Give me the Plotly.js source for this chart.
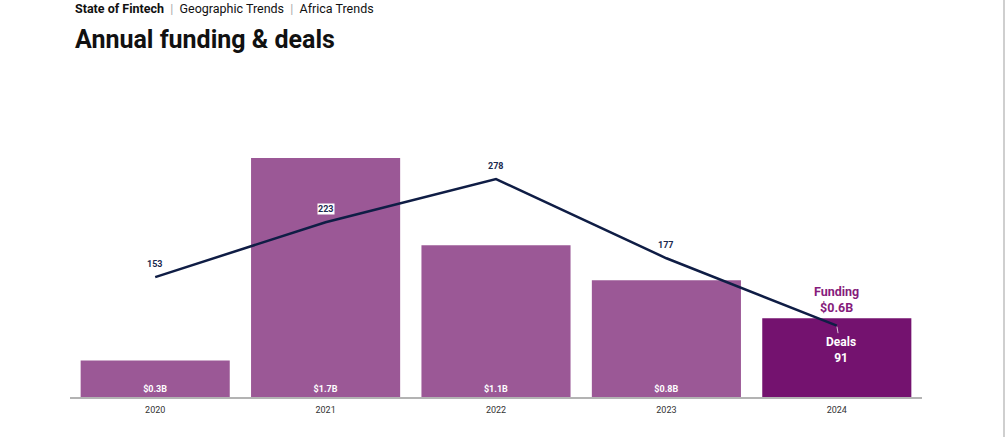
<!DOCTYPE html>
<html>
<head>
<meta charset="utf-8">
<script src="https://cdn.plot.ly/plotly-3.0.1.min.js"></script>
<style>
html,body{margin:0;padding:0;background:#fff;}
#chart{width:1005px;height:437px;}
#edge{position:absolute;left:1003px;top:0;width:2px;height:437px;background:#cfcfcf;}
</style>
</head>
<body>
<div id="chart"></div>
<div id="edge"></div>
<script>
const years = ['2020', '2021', '2022', '2023', '2024'];
const fundingB = [0.26, 1.7, 1.08, 0.83, 0.56];
const fundingLabels = ['$0.3B', '$1.7B', '$1.1B', '$0.8B', ''];
const deals = [153, 223, 278, 177, 91];
const dealLabels = ['153', '223', '278', '177', ''];
const barColors = ['#9b5896', '#9b5896', '#9b5896', '#9b5896', '#74126f'];

const font = 'Roboto, "Noto Sans", Arial, sans-serif';

const bars = {
  type: 'bar', x: years, y: fundingB, marker: {color: barColors},
  text: fundingLabels, textposition: 'inside', insidetextanchor: 'start',
  textfont: {family: font, size: 9, color: '#ffffff', weight: 700},
  constraintext: 'none', hoverinfo: 'skip', cliponaxis: false
};
const line = {
  type: 'scatter', mode: 'lines', x: years, y: deals, yaxis: 'y2',
  line: {color: '#0f1d45', width: 2.5}, hoverinfo: 'skip'
};

const annotations = [];
years.forEach((yr, i) => {
  if (!dealLabels[i]) return;
  annotations.push({
    x: i, y: deals[i], xref: 'x', yref: 'y2', text: '<b>' + dealLabels[i] + '</b>',
    showarrow: false, yshift: 13, font: {family: font, size: 9, color: '#1c2b4f'},
    bgcolor: i === 1 ? '#ffffff' : 'rgba(0,0,0,0)', borderpad: 0
  });
});
const last = years.length - 1;
annotations.push({
  x: last, y: fundingB[last], xref: 'x', yref: 'y', yanchor: 'bottom', yshift: 1,
  text: '<b>Funding<br>$0.6B</b>', showarrow: false,
  font: {family: font, size: 12.5, color: '#861c7c'}
});
annotations.push({
  x: last, y: deals[last], xref: 'x', yref: 'y2',
  text: '<b>Deals<br>91</b>', showarrow: true, arrowhead: 0, arrowwidth: 1,
  arrowcolor: '#d8c4d6', ax: 4, ay: 24, standoff: 1,
  font: {family: font, size: 12, color: '#ffffff'}
});

const sep = '\u00a0\u00a0<span style="color:#aaa">|</span>\u00a0\u00a0';

const layout = {
  width: 1005, height: 437,
  margin: {l: 70, r: 83, t: 60, b: 40},
  paper_bgcolor: '#ffffff', plot_bgcolor: '#ffffff',
  showlegend: false, bargap: 0.125,
  font: {family: font, color: '#333'},
  xaxis: {
    type: 'category', range: [-0.5, 4.5], showgrid: false, zeroline: false, ticks: '',
    showline: true, linecolor: '#b3b3b3', linewidth: 2, fixedrange: true,
    tickfont: {family: font, size: 9, color: '#333333'}, ticklen: 0, ticklabelstandoff: 3
  },
  yaxis: {range: [0, 2.397], visible: false, fixedrange: true},
  yaxis2: {range: [0, 430], overlaying: 'y', visible: false, fixedrange: true},
  annotations: annotations.concat([
    {xref: 'paper', yref: 'paper', x: 0.004, y: 1, xanchor: 'left', yanchor: 'bottom', yshift: 42,
     showarrow: false, align: 'left',
     text: '<b>State of Fintech</b>' + sep + 'Geographic Trends' + sep + 'Africa Trends',
     font: {family: font, size: 12.5, color: '#111'}},
    {xref: 'paper', yref: 'paper', x: 0.004, y: 1, xanchor: 'left', yanchor: 'bottom', yshift: 4,
     showarrow: false, align: 'left', text: '<b>Annual funding &amp; deals</b>',
     font: {family: font, size: 25, color: '#111'}}
  ])
};

Plotly.newPlot('chart', [bars, line], layout, {displayModeBar: false, staticPlot: true});
</script>
</body>
</html>
